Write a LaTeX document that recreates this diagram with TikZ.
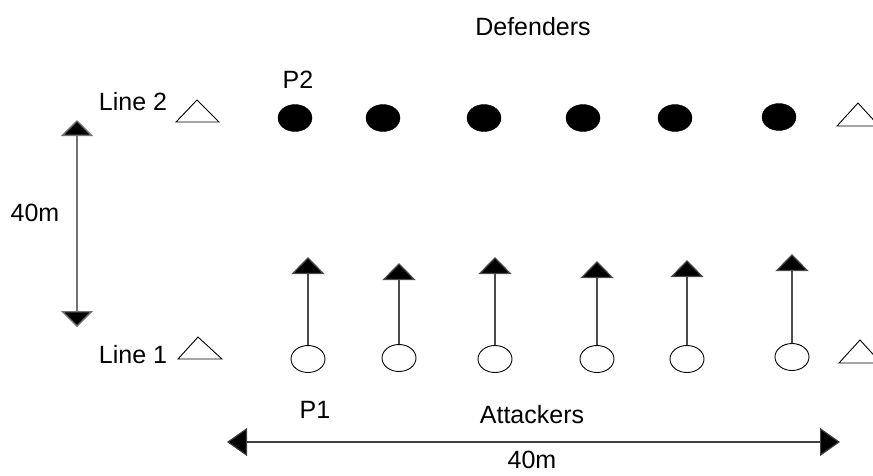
\documentclass[tikz,border=0pt]{standalone}
\usepackage{fontspec}
\setmainfont{Liberation Sans}
\usetikzlibrary{arrows.meta,shapes.geometric}
\tikzset{
  lbl/.style={inner sep=0pt, font=\fontsize{25}{30}\selectfont},
  defender/.style={ellipse, fill=black, draw=black, minimum width=34pt, minimum height=27pt, inner sep=0pt},
  attacker/.style={ellipse, fill=white, draw=black, line width=0.9pt, minimum width=34pt, minimum height=27pt, inner sep=0pt},
  runarrow/.style={draw=black!70, line width=1.2pt, -{Triangle[width=33pt,length=17pt,fill=black]}},
  cone/.style={draw=black, line width=0.9pt, fill=white, line join=miter},
  dimv/.style={draw=black!55, line width=1.4pt, {Triangle[width=32pt,length=16pt,fill=black]}-{Triangle[width=32pt,length=16pt,fill=black]}},
  dimh/.style={draw=black!75, line width=1.2pt, {Triangle[width=28pt,length=20pt,fill=black]}-{Triangle[width=28pt,length=20pt,fill=black]}},
}
\begin{document}
\begin{tikzpicture}[x=1pt,y=-1pt]
\useasboundingbox (0,0) rectangle (873,475);
% texts
\node[lbl] (def) at (533,27) {Defenders};
\node[lbl] (p2) at (298,80) {P2};
\node[lbl] (l2) at (133,102) {Line 2};
\node[lbl] (l1) at (133,355) {Line 1};
\node[lbl] (m40a) at (35,213) {40m};
\node[lbl] (p1) at (315,410) {P1};
\node[lbl] (att) at (532,415) {Attackers};
\node[lbl] (m40b) at (532,460) {40m};
% cones
\path[cone] (176,122) -- (197,100) -- (219,122) -- cycle;
\path[cone] (837,126) -- (858,103) -- (879,126) -- cycle;
\path[cone] (178,359) -- (198,337) -- (222,359) -- cycle;
\path[cone] (839,363) -- (860,340) -- (881,363) -- cycle;
% defenders
\node[defender] (d1) at (295,118) {};
\node[defender] (d2) at (383,118) {};
\node[defender] (d3) at (484,118) {};
\node[defender] (d4) at (583,118) {};
\node[defender] (d5) at (675,118) {};
\node[defender] (d6) at (779,117) {};
% attackers
\node[attacker] (a1) at (308,359) {};
\node[attacker] (a2) at (399,358) {};
\node[attacker] (a3) at (495,359) {};
\node[attacker] (a4) at (597,359) {};
\node[attacker] (a5) at (687,359) {};
\node[attacker] (a6) at (792,357) {};
% arrow tips
\coordinate (t1) at (308,257);
\coordinate (t2) at (399,263);
\coordinate (t3) at (495,257);
\coordinate (t4) at (597,261);
\coordinate (t5) at (687,260);
\coordinate (t6) at (792,254);
\foreach \i in {1,...,6} { \draw[runarrow] (a\i.north) -- (t\i); }
% dimension arrows
\coordinate (vtop) at (77,120);
\coordinate (vbot) at (77,327);
\draw[dimv] (vtop) -- (vbot);
\coordinate (hl) at (227,442);
\coordinate (hr) at (840,442);
\draw[dimh] (hl) -- (hr);
\end{tikzpicture}
\end{document}
